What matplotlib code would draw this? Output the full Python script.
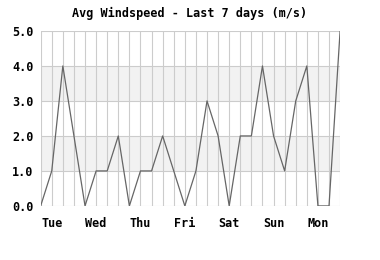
import matplotlib
matplotlib.use("Agg")
import matplotlib.pyplot as plt
import numpy as np

title = "Avg Windspeed - Last 7 days (m/s)"
days = ["Tue", "Wed", "Thu", "Fri", "Sat", "Sun", "Mon"]
windspeed = [0, 1, 4, 2, 0, 1, 1, 2, 0, 1, 1, 2, 1, 0,
             1, 3, 2, 0, 2, 2, 4, 2, 1, 3, 4, 0, 0, 5]
y_ticks = [0, 1, 2, 3, 4, 5]
y_labels = ["0.0", "1.0", "2.0", "3.0", "4.0", "5.0"]
shaded_bands = [(1, 2), (3, 4)]

font = {"family": "DejaVu Sans Mono", "weight": "bold", "size": 8.5}

fig = plt.figure(figsize=(3.8, 2.6), dpi=100)
ax = fig.add_axes([0.107, 0.208, 0.788, 0.673])
x = np.arange(len(windspeed))

for lo, hi in shaded_bands:
    ax.axhspan(lo, hi, color="#f2f2f2", zorder=0, lw=0)
for xi in x:
    ax.axvline(xi, color="#cccccc", lw=0.8, zorder=1)
for yv in y_ticks:
    ax.axhline(yv, color="#cccccc", lw=0.8, zorder=1)

ax.plot(x, windspeed, color="#666666", lw=0.9, zorder=3)

ax.set_xlim(0, len(windspeed) - 1)
ax.set_ylim(0, 5)
ax.set_yticks(y_ticks)
ax.set_yticklabels(y_labels, fontdict=font)
ax.set_xticks([4 * i + 1 for i in range(len(days))])
ax.set_xticklabels(days, fontdict=font)
ax.tick_params(length=0, pad=5)
ax.tick_params(axis="x", pad=8)
for s in ax.spines.values():
    s.set_visible(False)

fig.text(0.5, 0.95, title, ha="center", va="center", fontdict=font)
fig.savefig("out.png", dpi=100, facecolor="white")
